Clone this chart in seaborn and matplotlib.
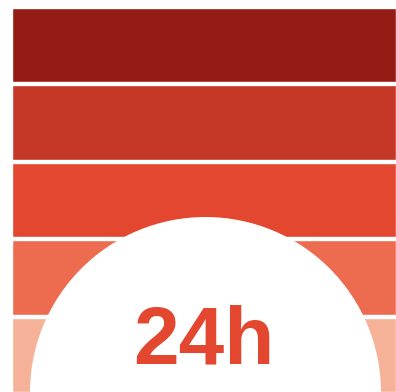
import matplotlib
matplotlib.use("Agg")
import matplotlib.pyplot as plt
import matplotlib.patches as mpatches
import seaborn as sns
import pandas as pd

# Data
levels = ["L1", "L2", "L3", "L4", "L5"]
values = [1, 1, 1, 1, 1]
colors = ["#951c15", "#c53726", "#e34730", "#ed6c50", "#f5b298"]
label = "24h"

sns.set_theme(style="white")
plt.rcParams["font.family"] = ["Liberation Sans", "DejaVu Sans"]

W, H = 396, 392
fig = plt.figure(figsize=(W / 100, H / 100), dpi=100)
ax = fig.add_axes([12 / W, 0, 1 - 12 / W, (H - 8) / H])

df = pd.DataFrame({"level": levels, "value": values})
sns.barplot(data=df, x="value", y="level", hue="level", palette=colors,
            orient="h", width=0.955, legend=False, ax=ax, saturation=1)
ax.set_xlim(0, 1)
ax.set_ylim(4 + 0.955 / 2, -0.955 / 2)
ax.set_axis_off()

circ = mpatches.Circle((2.055, -0.005), 1.755, transform=fig.dpi_scale_trans,
                       facecolor="white", edgecolor="none", clip_on=False, zorder=5)
fig.add_artist(circ)

fig.text(203.5 / W, 28 / H, label, ha="center", va="baseline",
         fontsize=59, fontweight="bold", color="#e34730", zorder=6)

fig.savefig("out.png", dpi=100)
